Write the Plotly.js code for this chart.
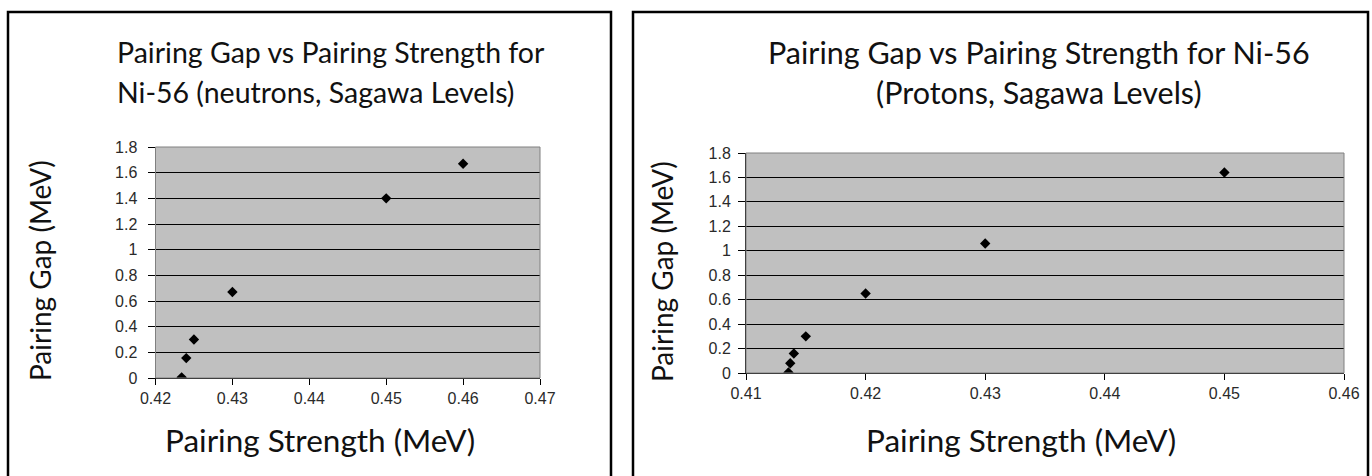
<!DOCTYPE html>
<html>
<head>
<meta charset="utf-8">
<script src="https://cdn.plot.ly/plotly-3.0.1.min.js"></script>
<style>html,body{margin:0;padding:0;background:#fff;}#chart{width:1372px;height:476px;}</style>
</head>
<body>
<div id="chart"></div>
<script>
// Neutrons chart data
var neutronStrength = [0.4234, 0.4240, 0.4250, 0.4300, 0.4500, 0.4600];
var neutronGap      = [0.005, 0.155, 0.30, 0.67, 1.40, 1.67];
// Protons chart data
var protonStrength = [0.41355, 0.4137, 0.4140, 0.4150, 0.4200, 0.4300, 0.4500];
var protonGap      = [0.005, 0.08, 0.16, 0.30, 0.65, 1.06, 1.64];

var leftTitle1 = "Pairing Gap vs Pairing Strength for";
var leftTitle2 = "Ni-56 (neutrons, Sagawa Levels)";
var rightTitle1 = "Pairing Gap vs Pairing Strength for Ni-56";
var rightTitle2 = "(Protons, Sagawa Levels)";
var yTitle = "Pairing Gap (MeV)";
var xTitle = "Pairing Strength (MeV)";

var W = 1372, H = 476;
function px(x){ return x / W; }
function py(y){ return 1 - y / H; }

var fam = "Lato, 'Noto Sans', sans-serif";
var titleFontL = {family: fam, size: 28.5, color: "#111"};
var titleFontR = {family: fam, size: 30.5, color: "#111"};
var yTitleFont = {family: fam, size: 28, color: "#111"};
var xTitleFont = {family: fam, size: 31.5, color: "#111"};
var tickFont = {family: "'Liberation Sans', Arial, sans-serif", size: 16, color: "#2a2a2a"};

var markerStyle = {symbol: "diamond", size: 8, color: "#000"};

var traces = [
  {x: neutronStrength, y: neutronGap, type: "scatter", mode: "markers", marker: markerStyle, xaxis: "x", yaxis: "y", hoverinfo: "x+y"},
  {x: protonStrength, y: protonGap, type: "scatter", mode: "markers", marker: markerStyle, xaxis: "x2", yaxis: "y2", hoverinfo: "x+y"}
];

function xAxis(domain, range, anchor){
  return {domain: domain, range: range, anchor: anchor, dtick: 0.01, tick0: 0, showline: true, linecolor: "#000", linewidth: 1,
    ticks: "outside", ticklen: 6, tickcolor: "#000", tickwidth: 1, showgrid: false, zeroline: false, tickfont: tickFont,
    fixedrange: true};
}
function yAxis(domain, anchor, standoff){
  return {domain: domain, range: [0, 1.8], anchor: anchor, dtick: 0.2, tick0: 0, showline: true, linecolor: "#000", linewidth: 1,
    ticks: "outside", ticklen: 7, tickcolor: "#000", tickwidth: 1, showgrid: true, gridcolor: "#000", gridwidth: 1,
    zeroline: false, tickfont: tickFont, ticklabelstandoff: standoff, fixedrange: true};
}

var layout = {
  width: W, height: H,
  margin: {l: 0, r: 0, t: 0, b: 0},
  paper_bgcolor: "#fff",
  plot_bgcolor: "#c0c0c0",
  showlegend: false,
  xaxis: xAxis([px(155.5), px(540)], [0.42, 0.47], "y"),
  yaxis: yAxis([py(378), py(147)], "x", 7),
  xaxis2: xAxis([px(746), px(1344)], [0.41, 0.46], "y2"),
  yaxis2: yAxis([py(373), py(153)], "x2", 4),
  shapes: [
    {type: "rect", xref: "paper", yref: "paper", x0: px(8), x1: px(611), y0: -0.2, y1: py(12), line: {color: "#000", width: 2.5}, fillcolor: "rgba(0,0,0,0)"},
    {type: "rect", xref: "paper", yref: "paper", x0: px(633), x1: px(1368), y0: -0.2, y1: py(12), line: {color: "#000", width: 2.5}, fillcolor: "rgba(0,0,0,0)"},
    {type: "rect", xref: "x domain", yref: "y domain", x0: 0, x1: 1, y0: 0, y1: 1, line: {color: "#808080", width: 1}, fillcolor: "rgba(0,0,0,0)", layer: "above"},
    {type: "rect", xref: "x2 domain", yref: "y2 domain", x0: 0, x1: 1, y0: 0, y1: 1, line: {color: "#808080", width: 1}, fillcolor: "rgba(0,0,0,0)", layer: "above"}
  ],
  annotations: [
    {text: leftTitle1, xref: "paper", yref: "paper", x: px(115), y: py(52), xanchor: "left", yanchor: "middle", showarrow: false, font: titleFontL},
    {text: leftTitle2, xref: "paper", yref: "paper", x: px(115), y: py(92), xanchor: "left", yanchor: "middle", showarrow: false, font: titleFontL},
    {text: rightTitle1, xref: "paper", yref: "paper", x: px(1039), y: py(52), xanchor: "center", yanchor: "middle", showarrow: false, font: titleFontR},
    {text: rightTitle2, xref: "paper", yref: "paper", x: px(1039), y: py(92), xanchor: "center", yanchor: "middle", showarrow: false, font: titleFontR},
    {text: yTitle, xref: "paper", yref: "paper", x: px(40), y: py(271), xanchor: "center", yanchor: "middle", textangle: -90, showarrow: false, font: yTitleFont},
    {text: yTitle, xref: "paper", yref: "paper", x: px(662), y: py(272), xanchor: "center", yanchor: "middle", textangle: -90, showarrow: false, font: yTitleFont},
    {text: xTitle, xref: "paper", yref: "paper", x: px(320), y: py(440), xanchor: "center", yanchor: "middle", showarrow: false, font: xTitleFont},
    {text: xTitle, xref: "paper", yref: "paper", x: px(1021), y: py(440), xanchor: "center", yanchor: "middle", showarrow: false, font: xTitleFont}
  ]
};

Plotly.newPlot("chart", traces, layout, {displayModeBar: false, staticPlot: true});
</script>
</body>
</html>
